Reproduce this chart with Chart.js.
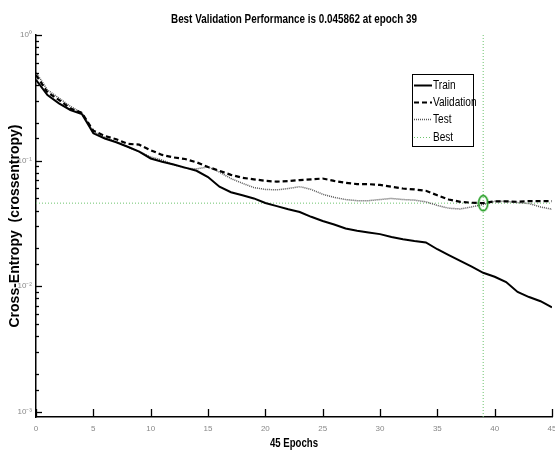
<!DOCTYPE html>
<html>
<head>
<meta charset="utf-8">
<script src="https://cdn.jsdelivr.net/npm/chart.js@4"></script>
<style>
  html, body { margin: 0; padding: 0; background: #fff; }
</style>
</head>
<body>
<canvas id="perf-chart" width="555" height="452"></canvas>
<script>
// data
const epochs = [0, 1, 2, 3, 4, 5, 6, 7, 8, 9, 10, 11, 12, 13, 14, 15, 16, 17, 18, 19, 20, 21, 22,
  23, 24, 25, 26, 27, 28, 29, 30, 31, 32, 33, 34, 35, 36, 37, 38, 39, 40, 41, 42, 43, 44, 45];
const trainPerf = [0.44, 0.333, 0.286, 0.253, 0.235, 0.165, 0.150, 0.140, 0.129, 0.118, 0.104, 0.098,
  0.093, 0.088, 0.083, 0.074, 0.062, 0.056, 0.053, 0.050, 0.046, 0.0434, 0.041, 0.039, 0.0357, 0.0331,
  0.031, 0.0288, 0.0277, 0.0268, 0.026, 0.0247, 0.0237, 0.0229, 0.0223, 0.0197, 0.0177, 0.0159, 0.0143,
  0.0128, 0.0119, 0.0108, 0.0090, 0.0082, 0.0076, 0.0068];
const valPerf = [0.48, 0.35, 0.304, 0.26, 0.24, 0.173, 0.157, 0.148, 0.136, 0.134, 0.121, 0.111, 0.106,
  0.103, 0.097, 0.089, 0.083, 0.077, 0.073, 0.071, 0.069, 0.068, 0.0687, 0.070, 0.071, 0.072, 0.069,
  0.0666, 0.065, 0.065, 0.064, 0.062, 0.060, 0.059, 0.0575, 0.053, 0.049, 0.047, 0.0462, 0.045862,
  0.0474, 0.0474, 0.047, 0.0476, 0.0476, 0.0476];
const testPerf = [0.505, 0.365, 0.315, 0.27, 0.24, 0.17, 0.153, 0.141, 0.128, 0.118, 0.107, 0.101, 0.093,
  0.087, 0.086, 0.089, 0.081, 0.072, 0.066, 0.061, 0.059, 0.0585, 0.060, 0.062, 0.059, 0.054, 0.051,
  0.049, 0.048, 0.048, 0.049, 0.050, 0.049, 0.0485, 0.047, 0.044, 0.0418, 0.0412, 0.0428, 0.0448,
  0.0474, 0.0474, 0.0463, 0.0455, 0.0428, 0.041];
const bestEpoch = 39;
const bestPerf = 0.045862;
const xTicks = [0, 5, 10, 15, 20, 25, 30, 35, 40, 45];
const yMin = 0.00091, yMax = 1;
const titleText = 'Best Validation Performance is 0.045862 at epoch 39';
const xTitleText = '45 Epochs';

const SANS = '"Liberation Sans", Arial, sans-serif';
const supDigits = { '-': '\u207B', '0': '\u2070', '1': '\u00B9', '2': '\u00B2', '3': '\u00B3' };
function powLabel(e) {
  return '10' + String(e).split('').map(c => supDigits[c]).join('');
}
function isPow10(v) {
  const l = Math.log10(v);
  return Math.abs(l - Math.round(l)) < 1e-6;
}

// no narrow font installed, so squeeze arial sideways
function narrowText(ctx, text, x, y, font, scaleX, align) {
  ctx.save();
  ctx.translate(x, y);
  ctx.scale(scaleX, 1);
  ctx.font = font;
  ctx.fillStyle = '#000';
  ctx.textAlign = align || 'center';
  ctx.textBaseline = 'middle';
  ctx.fillText(text, 0, 0);
  ctx.restore();
}

// little green ellipse for the best point
const ring = document.createElement('canvas');
ring.width = 12; ring.height = 18;
(function() {
  const c = ring.getContext('2d');
  c.strokeStyle = '#1b9a1b';
  c.lineWidth = 1.6;
  c.beginPath();
  c.ellipse(6, 9, 4.6, 7.6, 0, 0, Math.PI * 2);
  c.stroke();
})();

// inward ticks like matlab
const innerTicks = {
  id: 'innerTicks',
  afterDraw(chart) {
    const { ctx, chartArea, scales: { x, y } } = chart;
    ctx.save();
    ctx.strokeStyle = '#000';
    ctx.lineWidth = 1.3;
    x.ticks.forEach(t => {
      const px = Math.round(x.getPixelForValue(t.value)) + 0.5;
      ctx.beginPath();
      ctx.moveTo(px, chartArea.bottom);
      ctx.lineTo(px, chartArea.bottom - 8);
      ctx.stroke();
    });
    y.ticks.forEach(t => {
      if (t.value < 0.00099) return;
      const py = Math.round(y.getPixelForValue(t.value)) + 0.5;
      ctx.beginPath();
      ctx.moveTo(chartArea.left, py);
      ctx.lineTo(chartArea.left + (isPow10(t.value) ? 6 : 3), py);
      ctx.stroke();
    });
    ctx.restore();
  }
};

// titles drawn by hand (narrow look)
const narrowTitles = {
  id: 'narrowTitles',
  afterDraw(chart) {
    const { ctx, chartArea } = chart;
    const cx = (chartArea.left + chartArea.right) / 2;
    narrowText(ctx, titleText, cx, 19.5, 'bold 13px ' + SANS, 0.76);
    narrowText(ctx, xTitleText, cx, 444, 'bold 12px ' + SANS, 0.8);
  }
};

// boxed legend in the upper right
const boxLegend = {
  id: 'boxLegend',
  afterDraw(chart) {
    const ctx = chart.ctx;
    const items = chart.data.datasets.filter(d => d.inLegend);
    const bx = 412, by = 74, bw = 61, bh = 72, rowH = 17.2;
    ctx.save();
    ctx.fillStyle = '#fff';
    ctx.fillRect(bx, by, bw, bh);
    ctx.strokeStyle = '#000';
    ctx.lineWidth = 1;
    ctx.strokeRect(bx + 0.5, by + 0.5, bw, bh);
    items.forEach((d, i) => {
      const cy = Math.round(by + 11 + i * rowH) + 0.5;
      ctx.beginPath();
      ctx.setLineDash(d.borderDash || []);
      ctx.lineWidth = d.borderWidth;
      ctx.strokeStyle = d.borderColor;
      ctx.moveTo(bx + 2, cy);
      ctx.lineTo(bx + 20, cy);
      ctx.stroke();
      ctx.setLineDash([]);
      narrowText(ctx, d.label, bx + 21, cy, '12px ' + SANS, 0.84, 'left');
    });
    ctx.restore();
  }
};

const ctx = document.getElementById('perf-chart').getContext('2d');
const perfChart = new Chart(ctx, {
  type: 'line',
  data: {
    labels: epochs,
    datasets: [
      {
        label: 'best point',
        data: [{ x: bestEpoch, y: bestPerf }],
        showLine: false,
        pointStyle: ring,
        pointRadius: 6,
        order: 0
      },
      {
        label: 'Train',
        data: trainPerf,
        borderColor: '#000',
        borderWidth: 2,
        pointRadius: 0,
        tension: 0,
        inLegend: true,
        order: 1
      },
      {
        label: 'Validation',
        data: valPerf,
        borderColor: '#000',
        borderWidth: 2.2,
        borderDash: [5, 3],
        pointRadius: 0,
        tension: 0,
        inLegend: true,
        order: 2
      },
      {
        label: 'Test',
        data: testPerf,
        borderColor: '#555',
        borderWidth: 1.5,
        borderDash: [1, 1],
        pointRadius: 0,
        tension: 0,
        inLegend: true,
        order: 3
      },
      {
        label: 'Best',
        data: [{ x: 0, y: bestPerf }, { x: 45, y: bestPerf }],
        borderColor: '#6cc36c',
        borderWidth: 1,
        borderDash: [1, 2],
        pointRadius: 0,
        inLegend: true,
        order: 4
      },
      {
        label: 'best epoch',
        data: [{ x: bestEpoch, y: yMin }, { x: bestEpoch, y: yMax }],
        borderColor: '#6cc36c',
        borderWidth: 1,
        borderDash: [1, 2],
        pointRadius: 0,
        order: 5
      }
    ]
  },
  options: {
    responsive: false,
    animation: false,
    layout: { autoPadding: false, padding: { top: 35, left: 0, right: 3, bottom: 0 } },
    plugins: {
      legend: { display: false },
      tooltip: { enabled: false },
      title: { display: false }
    },
    scales: {
      x: {
        type: 'linear',
        min: 0,
        max: 45,
        afterBuildTicks(s) { s.ticks = xTicks.map(v => ({ value: v })); },
        afterFit(s) {
          s.height = 35;
          s.paddingLeft = 0;
          s.paddingRight = 0;
        },
        ticks: { color: '#888', font: { family: SANS, size: 8 }, padding: 7, maxRotation: 0 },
        grid: { display: false, drawTicks: false },
        border: { display: true, color: '#000', width: 1.5 }
      },
      y: {
        type: 'logarithmic',
        min: yMin,
        max: yMax,
        afterFit(s) {
          s.width = 36;
          s.paddingTop = 0;
          s.paddingBottom = 0;
        },
        ticks: {
          color: '#888',
          font: { family: SANS, size: 8 },
          padding: 4,
          autoSkip: false,
          callback: v => isPow10(v) ? powLabel(Math.round(Math.log10(v))) : ''
        },
        grid: { display: false, drawTicks: false },
        border: { display: true, color: '#000', width: 1.5 },
        title: {
          display: true,
          text: 'Cross-Entropy  (crossentropy)',
          color: '#000',
          font: { family: SANS, size: 14, weight: 'bold' },
          padding: { top: 7, bottom: 0 }
        }
      }
    }
  },
  plugins: [innerTicks, narrowTitles, boxLegend]
});
</script>
</body>
</html>
